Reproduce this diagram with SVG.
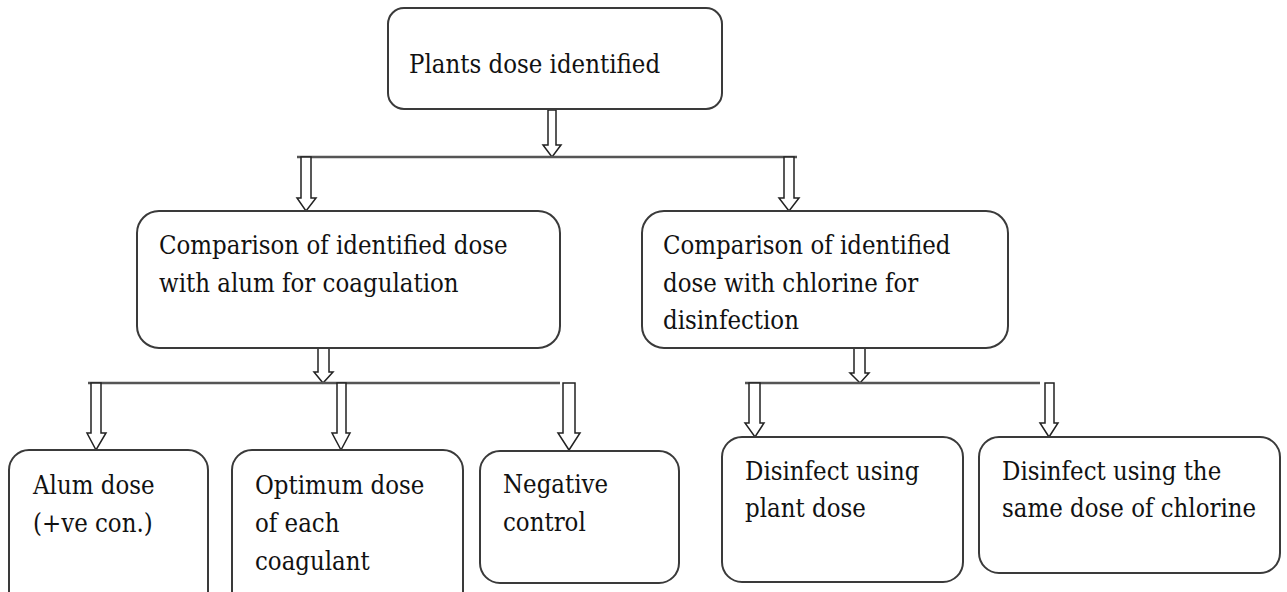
<svg xmlns="http://www.w3.org/2000/svg" width="1287" height="592" viewBox="0 0 1287 592">
<style>
.box{fill:#fff;stroke:#3a3a3a;stroke-width:2}
.t{font-family:"DejaVu Serif Condensed","DejaVu Serif",serif;font-stretch:condensed;font-size:25.5px;fill:#111}
.ln{stroke:#555;stroke-width:2.5;fill:none}
.ar{fill:#fff;stroke:#222;stroke-width:1.5;stroke-linejoin:miter}
</style>
<rect width="1287" height="592" fill="#fff"/>
<g id="connectors">
<polygon class="ar" points="548,110 556,110 556,145 561,145 552,157 543,145 548,145"/>
<line class="ln" x1="297" y1="157" x2="797" y2="157"/>
<polygon class="ar" points="301,157 311,157 311,198 316,198 306,211 297,198 301,198"/>
<polygon class="ar" points="784,157 794,157 794,198 799,198 789,211 779,198 784,198"/>
<polygon class="ar" points="318,348 329,348 329,372 333,372 323,383 314,372 318,372"/>
<line class="ln" x1="88" y1="383" x2="560" y2="383"/>
<polygon class="ar" points="91,383 101,383 101,433 106,433 96,450 87,433 91,433"/>
<polygon class="ar" points="337,383 346,383 346,433 350,433 341,450 332,433 337,433"/>
<polygon class="ar" points="563,383 575,383 575,433 580,433 569,450 558,433 563,433"/>
<polygon class="ar" points="854,348 865,348 865,373 869,373 860,383 850,373 854,373"/>
<line class="ln" x1="745" y1="383" x2="1040" y2="383"/>
<polygon class="ar" points="749,383 760,383 760,423 764,423 755,437 745,423 749,423"/>
<polygon class="ar" points="1045,383 1054,383 1054,423 1058,423 1049,437 1040,423 1045,423"/>
</g>
<g id="n_top">
<rect class="box" x="388" y="8" width="334" height="101" rx="16"/>
<text class="t" x="409" y="73">Plants dose identified</text>
</g>
<g id="n_alum">
<rect class="box" x="137" y="211" width="423" height="137" rx="22"/>
<text class="t" x="159" y="254">Comparison of identified dose</text>
<text class="t" x="159" y="292">with alum for coagulation</text>
</g>
<g id="n_chlorine">
<rect class="box" x="642" y="211" width="366" height="137" rx="22"/>
<text class="t" x="663" y="254">Comparison of identified</text>
<text class="t" x="663" y="292">dose with chlorine for</text>
<text class="t" x="663" y="329">disinfection</text>
</g>
<g id="n_alumdose">
<rect class="box" x="9" y="450" width="199" height="170" rx="20"/>
<text class="t" x="33" y="494">Alum dose</text>
<text class="t" x="33" y="532">(+ve con.)</text>
</g>
<g id="n_optimum">
<rect class="box" x="232" y="450" width="231" height="170" rx="20"/>
<text class="t" x="255" y="494">Optimum dose</text>
<text class="t" x="255" y="532">of each</text>
<text class="t" x="255" y="570">coagulant</text>
</g>
<g id="n_negative">
<rect class="box" x="480" y="451" width="199" height="132" rx="20"/>
<text class="t" x="503" y="493">Negative</text>
<text class="t" x="503" y="531">control</text>
</g>
<g id="n_plantdose">
<rect class="box" x="722" y="437" width="241" height="145" rx="20"/>
<text class="t" x="745" y="480">Disinfect using</text>
<text class="t" x="745" y="517">plant dose</text>
</g>
<g id="n_samedose">
<rect class="box" x="979" y="437" width="301" height="136" rx="20"/>
<text class="t" x="1002" y="480">Disinfect using the</text>
<text class="t" x="1002" y="517">same dose of chlorine</text>
</g>
</svg>
